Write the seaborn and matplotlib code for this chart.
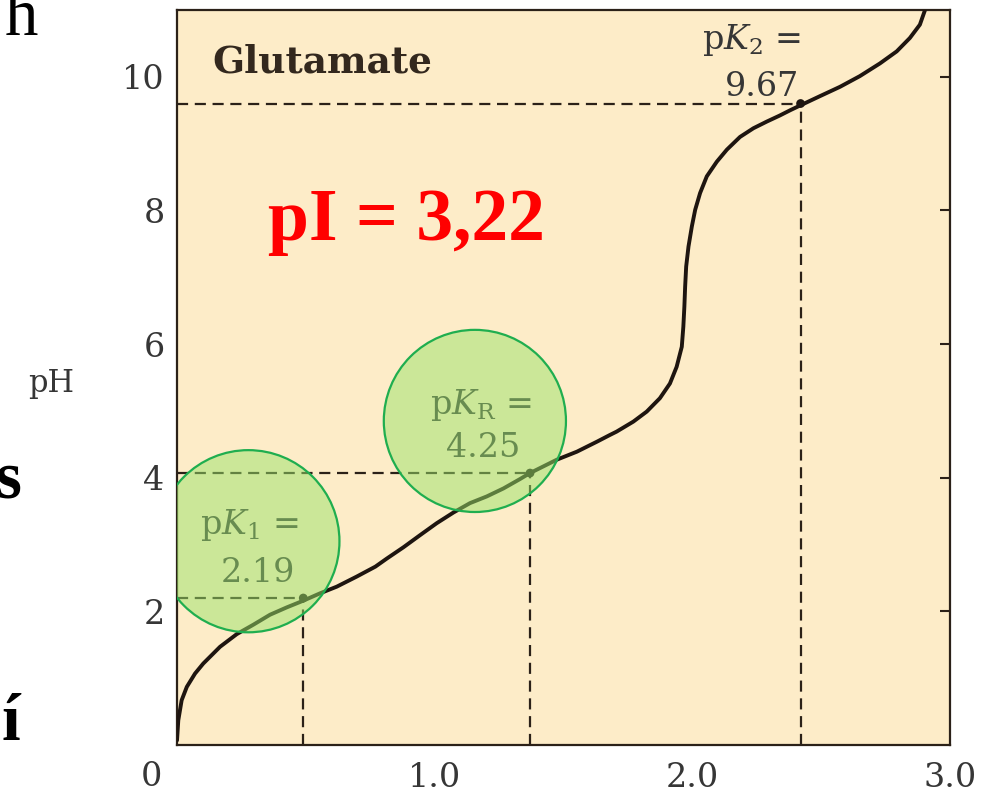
import matplotlib
matplotlib.use("Agg")
import matplotlib.pyplot as plt
import seaborn as sns
import pandas as pd

# -------------------------------
# data
# -------------------------------
# titration curve: OH- equivalents vs pH
oh_eq = [0.0, 0.005, 0.018, 0.038, 0.070, 0.102, 0.167, 0.232, 0.296, 0.361,
         0.426, 0.490, 0.555, 0.620, 0.697, 0.770, 0.814, 0.879, 0.943, 1.008,
         1.073, 1.137, 1.202, 1.267, 1.331, 1.370, 1.422, 1.474, 1.552, 1.630,
         1.680, 1.706, 1.771, 1.823, 1.874, 1.913, 1.939, 1.959, 1.965, 1.969,
         1.972, 1.976, 1.985, 1.998, 2.011, 2.030, 2.056, 2.095, 2.134, 2.185,
         2.237, 2.289, 2.339, 2.380, 2.418, 2.495, 2.573, 2.650, 2.728, 2.793,
         2.844, 2.883, 2.903]
ph = [0.07, 0.37, 0.67, 0.87, 1.07, 1.22, 1.47, 1.66, 1.80, 1.95,
      2.06, 2.16, 2.27, 2.37, 2.52, 2.67, 2.79, 2.96, 3.14, 3.32,
      3.48, 3.62, 3.72, 3.84, 3.98, 4.07, 4.17, 4.27, 4.39, 4.54,
      4.64, 4.69, 4.84, 4.99, 5.19, 5.41, 5.66, 5.96, 6.26, 6.56,
      6.86, 7.16, 7.46, 7.76, 8.01, 8.26, 8.51, 8.73, 8.91, 9.10,
      9.23, 9.33, 9.42, 9.50, 9.57, 9.71, 9.85, 10.01, 10.20, 10.38,
      10.58, 10.78, 11.0]

# marked pK points on the curve
pk_x = [0.49, 1.37, 2.42]
pk_y = [2.2, 4.07, 9.6]
pk_names = [r"p$K_1$ =", r"p$K_{\rm R}$ =", r"p$K_2$ ="]
pk_values = ["2.19", "4.25", "9.67"]

# highlight circles (centres in data units)
circle_x = [0.277, 1.156]
circle_y = [3.05, 4.85]

x_ticks = [1.0, 2.0, 3.0]
x_ticklabels = ["1.0", "2.0", "3.0"]
y_ticks = [2, 4, 6, 8, 10]

curve = pd.DataFrame({"OH": oh_eq, "pH": ph})
points = pd.DataFrame({"OH": pk_x, "pH": pk_y})
circles = pd.DataFrame({"OH": circle_x, "pH": circle_y})

# -------------------------------
# style
# -------------------------------
sns.set_theme(style="white")
plt.rcParams["font.family"] = ["DejaVu Serif", "DejaVu Sans"]
plt.rcParams["mathtext.fontset"] = "dejavuserif"

ink = "#2b2118"
label_col = "#363636"
bg = "#fdecc8"

fig = plt.figure(figsize=(9.85, 7.97), dpi=100)
ax = fig.add_axes([0.1797, 0.0652, 0.7848, 0.9223])
ax.set_facecolor(bg)

# curve
sns.lineplot(data=curve, x="OH", y="pH", color="#1e1510", linewidth=2.8,
             sort=False, ax=ax, zorder=3, solid_joinstyle="round",
             solid_capstyle="round")

# dashed guide lines
for xx, yy in zip(pk_x, pk_y):
    ax.plot([0, xx], [yy, yy], color=ink, lw=1.6, ls=(0, (5, 3)), zorder=2)
    ax.plot([xx, xx], [0, yy], color=ink, lw=1.6, ls=(0, (5, 3)), zorder=2)

sns.scatterplot(data=points, x="OH", y="pH", color="#1e1510", s=40,
                edgecolor="none", ax=ax, zorder=4)

# pK labels
name_off = [(-0.21, 1.09), (-0.19, 1.02), (-0.19, 0.95)]
val_off = [(-0.176, 0.37), (-0.183, 0.38), (-0.15, 0.24)]
for i in range(3):
    ax.text(pk_x[i] + name_off[i][0], pk_y[i] + name_off[i][1], pk_names[i],
            ha="center", va="center", fontsize=24, color=label_col, zorder=3)
    ax.text(pk_x[i] + val_off[i][0], pk_y[i] + val_off[i][1], pk_values[i],
            ha="center", va="center", fontsize=24, color=label_col, zorder=3)

# green highlight circles
sns.scatterplot(data=circles, x="OH", y="pH", s=17200, color="#9be36a",
                alpha=0.5, edgecolor="none", ax=ax, zorder=5)
sns.scatterplot(data=circles, x="OH", y="pH", s=17200, facecolor="none",
                edgecolor="#1fae4f", linewidth=1.6, ax=ax, zorder=6)

ax.text(0.136, 10.06, "Glutamate", fontsize=27, fontweight="bold",
        color="#33281e", va="baseline", ha="left")
ax.text(0.353, 7.56, "pI = 3,22", fontsize=53, fontweight="bold",
        color="#ff0000", family=["Liberation Serif", "DejaVu Serif"],
        va="baseline", ha="left")

# axes
ax.set_xlim(0, 3.0)
ax.set_ylim(0, 11)
ax.set_xticks(x_ticks)
ax.set_xticklabels(x_ticklabels)
ax.set_yticks(y_ticks)
ax.tick_params(direction="in", length=7, width=1.5, color=ink,
               labelsize=24, labelcolor=label_col, right=True,
               labelright=False, top=False)
ax.tick_params(axis="x", pad=12)
ax.tick_params(axis="y", pad=9)
ax.set_xlabel("")
ax.set_ylabel("")
for sp in ax.spines.values():
    sp.set_color(ink)
    sp.set_linewidth(1.6)
    sp.set_visible(True)

ax.text(-0.10, -0.48, "0", ha="center", va="center", fontsize=24,
        color=label_col, clip_on=False)
fig.text(0.052, 0.519, "pH", ha="center", va="center", fontsize=22,
         color=label_col)

# stray letters from the slide behind the chart
stray = dict(fontsize=48, color="black", va="baseline", ha="right",
             family=["Liberation Serif", "DejaVu Serif"])
fig.text(38 / 985, 1 - 35 / 797, "h", **stray)
fig.text(22 / 985, 1 - 498 / 797, "s", fontweight="bold", **stray)
fig.text(20 / 985, 1 - 740 / 797, "í", fontweight="bold", **stray)

fig.savefig("out.png", dpi=100, facecolor="white")
